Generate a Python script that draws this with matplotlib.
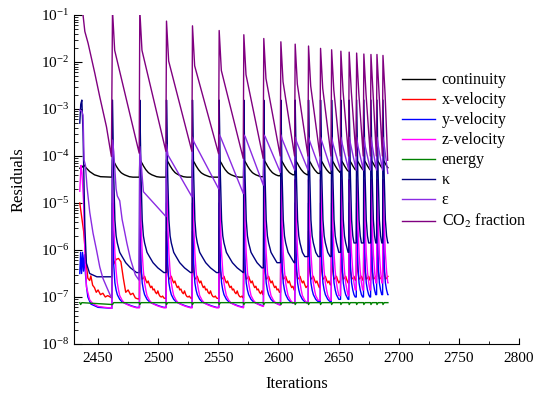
import numpy as np
import matplotlib.pyplot as plt
from matplotlib.ticker import MultipleLocator, FixedLocator, LogLocator, LogFormatterMathtext, NullFormatter

plt.rcParams['font.family'] = ['Liberation Serif', 'DejaVu Serif']
plt.rcParams['mathtext.fontset'] = 'stix'

# iterations where the residuals jump
spike_it = [2462, 2484.7, 2506.9, 2528.5, 2550.7, 2571.2, 2587.8, 2602.0, 2613.9, 2625.0,
            2635.0, 2644.2, 2651.9, 2658.8, 2665.0, 2671.0, 2676.9, 2681.9, 2686.9]
end_it = 2691.3

# all residual values below are log10(residual)

# continuity
cont_first_it = [2434.8, 2436.6, 2438.3, 2440, 2443, 2447, 2452, 2461.5]
cont_first = [-4.26, -4.24, -4.19, -4.25, -4.33, -4.40, -4.44, -4.45]
cont_off = [0, 1, 2, 3, 4, 5, 6, 7, 8, 10, 12, 14, 17, 20, 25]
cont_val = [-4.08, -4.12, -4.16, -4.21, -4.25, -4.29, -4.32, -4.35, -4.37, -4.40, -4.42, -4.44, -4.45, -4.45, -4.45]

# x-velocity
xvel_first_it = [2434.8, 2438, 2440, 2441.5, 2443, 2444, 2445.5, 2447, 2448.5, 2450, 2452, 2454, 2456, 2458, 2461.5]
xvel_first = [-5.0, -5.6, -6.25, -6.6, -6.65, -6.55, -6.75, -6.8, -6.9, -6.85, -6.95, -6.92, -7.0, -6.97, -7.02]
xvel_off = list(range(23))
xvel_val = [-5.6, -6.45, -6.62, -6.6, -6.56, -6.64, -6.7, -6.66, -6.74, -6.8, -6.77, -6.85,
            -6.83, -6.9, -6.93, -6.87, -6.95, -6.99, -7.0, -6.98, -7.02, -7.03, -7.05]
xvel_c2_off = [0, 1, 3, 5, 7, 9, 11, 13, 15, 17, 19, 21]
xvel_c2_val = [-5.6, -6.3, -6.2, -6.18, -6.25, -6.6, -6.9, -6.85, -6.95, -6.92, -7.02, -7.04]

# y-velocity
yvel_first_it = [2434.8, 2435.5, 2436.3, 2437.1, 2437.9, 2438.7, 2439.5, 2440.5, 2441.5, 2444, 2450, 2461.5]
yvel_first = [-6.5, -6.05, -6.5, -6.05, -6.45, -6.1, -6.5, -6.8, -7.0, -7.15, -7.22, -7.24]
yvel_off = [0, 1, 2, 3, 4, 5, 6, 8, 10, 13, 16, 20, 24]
yvel_val = [-5.0, -6.3, -6.7, -6.85, -6.95, -7.0, -7.05, -7.1, -7.13, -7.16, -7.19, -7.22, -7.24]

# z-velocity
zvel_first_it = [2434.8, 2435.8, 2436.6, 2438, 2439, 2440.3, 2443, 2446, 2450, 2461.5]
zvel_first = [-4.75, -4.2, -4.35, -5.0, -6.0, -6.78, -7.06, -7.15, -7.2, -7.24]
zvel_off = [0, 1, 2, 3, 4, 5, 6, 8, 10, 13, 16, 20, 24]
zvel_val = [-4.5, -5.4, -6.07, -6.45, -6.7, -6.85, -6.97, -7.07, -7.13, -7.17, -7.2, -7.23, -7.24]

# energy
energy_first_it = [2434.8, 2435.5, 2436.5]
energy_first = [-7.12, -7.16, -7.12]
energy_off = [0, 1]
energy_val = [-7.16, -7.12]

# kappa
kappa_first_it = [2434.8, 2435.6, 2436.5, 2437.5, 2438.3, 2439, 2440.3, 2443, 2449, 2461.5]
kappa_first = [-3.3, -2.9, -2.81, -3.5, -4.6, -5.5, -6.28, -6.5, -6.57, -6.57]
kappa_off = [0, 1, 2, 3, 4, 6, 8, 11, 15, 20, 26]
kappa_val = [-2.81, -4.4, -5.36, -5.7, -5.85, -6.05, -6.14, -6.27, -6.38, -6.48, -6.56]

# epsilon
eps_first_it = [2434.8, 2436.5, 2437.5, 2438.4, 2439.5, 2440.8, 2443.1, 2445.8, 2448.7, 2451.4, 2454, 2457.0, 2460.6, 2461.5]
eps_first = [-3.02, -3.05, -3.13, -4.09, -4.2, -4.65, -5.2, -5.64, -6.0, -6.36, -6.6, -6.78, -6.99, -7.02]
eps_c2_off = [0, 1, 2, 3, 4, 6, 8, 10, 12, 15, 19, 22]
eps_c2_val = [-3.66, -3.9, -4.3, -4.7, -4.85, -4.95, -5.35, -5.6, -5.86, -6.2, -6.53, -6.64]
# from the 2nd jump on: value at the jump, value of the hump after it, value before the next jump
eps_peak = [-3.8, -3.75, -3.6, -3.55, -3.55, -3.55, -3.55, -3.6, -3.6, -3.6, -3.6, -3.6, -3.6, -3.6, -3.6, -3.6, -3.6, -3.6]
eps_hump = [-4.76, -3.98, -3.7, -3.6, -3.59, -3.59, -3.65, -3.7, -3.7, -3.7, -3.75, -3.75, -3.75, -3.8, -3.8, -3.8, -3.8, -3.8]
eps_end = [-5.29, -4.87, -4.7, -4.8, -4.62, -4.35, -4.3, -4.3, -4.3, -4.3, -4.3, -4.3, -4.3, -4.3, -4.3, -4.3, -4.3, -4.37]

# CO2 fraction
co2_first_it = [2434.8, 2437.5, 2439, 2441.7, 2447.3, 2451.4, 2457, 2459.7, 2461.1]
co2_first = [-0.3, -1.0, -1.35, -1.6, -2.24, -2.74, -3.38, -3.8, -4.01]
co2_peak = [-0.9, -0.9, -1.13, -1.23, -1.33, -1.42, -1.50, -1.57, -1.62, -1.66,
            -1.71, -1.74, -1.77, -1.79, -1.81, -1.83, -1.84, -1.84, -1.86]
co2_floor = [-3.94, -3.9, -3.9, -3.95, -4.05, -4.05, -4.0, -4.0, -4.0, -4.0,
             -4.0, -4.0, -4.0, -4.0, -4.0, -4.0, -4.0, -4.0, -4.09]

y_ticks = [1e-8, 1e-7, 1e-6, 1e-5, 1e-4, 1e-3, 1e-2, 1e-1]


def cycle_end(i):
    return spike_it[i + 1] if i + 1 < len(spike_it) else end_it


def repeat_shape(first_it, first_val, off, val, special=None):
    xs, ys = list(first_it), list(first_val)
    for i, s in enumerate(spike_it):
        nxt = cycle_end(i)
        o_list, v_list = (off, val) if not special or i not in special else special[i]
        kept = [(s + o, v) for o, v in zip(o_list, v_list) if s + o < nxt - 0.3]
        kept.append((nxt - 0.3, kept[-1][1]))  # hold last value up to the next jump
        xs += [p[0] for p in kept]
        ys += [p[1] for p in kept]
    return np.array(xs), 10.0 ** np.array(ys)


def eps_series():
    xs, ys = list(eps_first_it), list(eps_first)
    s = spike_it[0]
    xs += [s + o for o in eps_c2_off]
    ys += eps_c2_val
    for k, i in enumerate(range(1, len(spike_it))):
        s, nxt = spike_it[i], cycle_end(i)
        hump_at = 3 if k == 0 else 1.2
        xs += [s, s + hump_at, nxt - 0.4]
        ys += [eps_peak[k], eps_hump[k], eps_end[k]]
    return np.array(xs), 10.0 ** np.array(ys)


def co2_series():
    xs, ys = list(co2_first_it), list(co2_first)
    for i, s in enumerate(spike_it):
        nxt = cycle_end(i)
        xs += [s, s + 1.8, nxt - 0.5]
        ys += [co2_peak[i], co2_peak[i] - 0.85, co2_floor[i]]
    return np.array(xs), 10.0 ** np.array(ys)


series = [
    ('continuity', 'black', repeat_shape(cont_first_it, cont_first, cont_off, cont_val)),
    ('x-velocity', '#ff0000', repeat_shape(xvel_first_it, xvel_first, xvel_off, xvel_val,
                                          {0: (xvel_c2_off, xvel_c2_val)})),
    ('y-velocity', '#0000ff', repeat_shape(yvel_first_it, yvel_first, yvel_off, yvel_val)),
    ('z-velocity', '#ff00ff', repeat_shape(zvel_first_it, zvel_first, zvel_off, zvel_val)),
    ('energy', '#008000', repeat_shape(energy_first_it, energy_first, energy_off, energy_val)),
    ('\u03ba', '#000080', repeat_shape(kappa_first_it, kappa_first, kappa_off, kappa_val)),
    ('\u03b5', '#8a2be2', eps_series()),
    ('CO$_2$ fraction', '#800080', co2_series()),
]

fig = plt.figure(figsize=(5.34, 3.96), dpi=100)
ax = fig.add_axes([0.1386, 0.1313, 0.8333, 0.8308])

for name, color, (x, y) in series:
    ax.plot(x, y, color=color, lw=1.0, label=name)

ax.set_yscale('log')
ax.set_xlim(2430, 2800)
ax.set_ylim(1e-8, 1e-1)
ax.xaxis.set_major_locator(MultipleLocator(50))
ax.xaxis.set_minor_locator(MultipleLocator(25))
ax.yaxis.set_major_locator(FixedLocator(y_ticks))
ax.yaxis.set_minor_locator(LogLocator(base=10, subs=np.arange(2, 10), numticks=20))
ax.yaxis.set_major_formatter(LogFormatterMathtext())
ax.yaxis.set_minor_formatter(NullFormatter())
ax.tick_params(which='both', direction='in', labelsize=11, top=False, right=False)
ax.tick_params(axis='y', which='major', length=5.5)
ax.tick_params(axis='y', which='minor', length=3)
ax.tick_params(axis='x', which='major', length=4.5, pad=6)
ax.tick_params(axis='x', which='minor', length=2)
for side in ('top', 'right'):
    ax.spines[side].set_visible(False)

ax.set_xlabel('Iterations', fontsize=12, labelpad=8)
ax.set_ylabel('Residuals', fontsize=12, labelpad=10)

ax.legend(loc='upper left', bbox_to_anchor=(0.719, 0.85), frameon=False, fontsize=11.5,
          handlelength=2.1, handletextpad=0.4, labelspacing=0.25, borderpad=0)

fig.savefig('out.png', dpi=100)
